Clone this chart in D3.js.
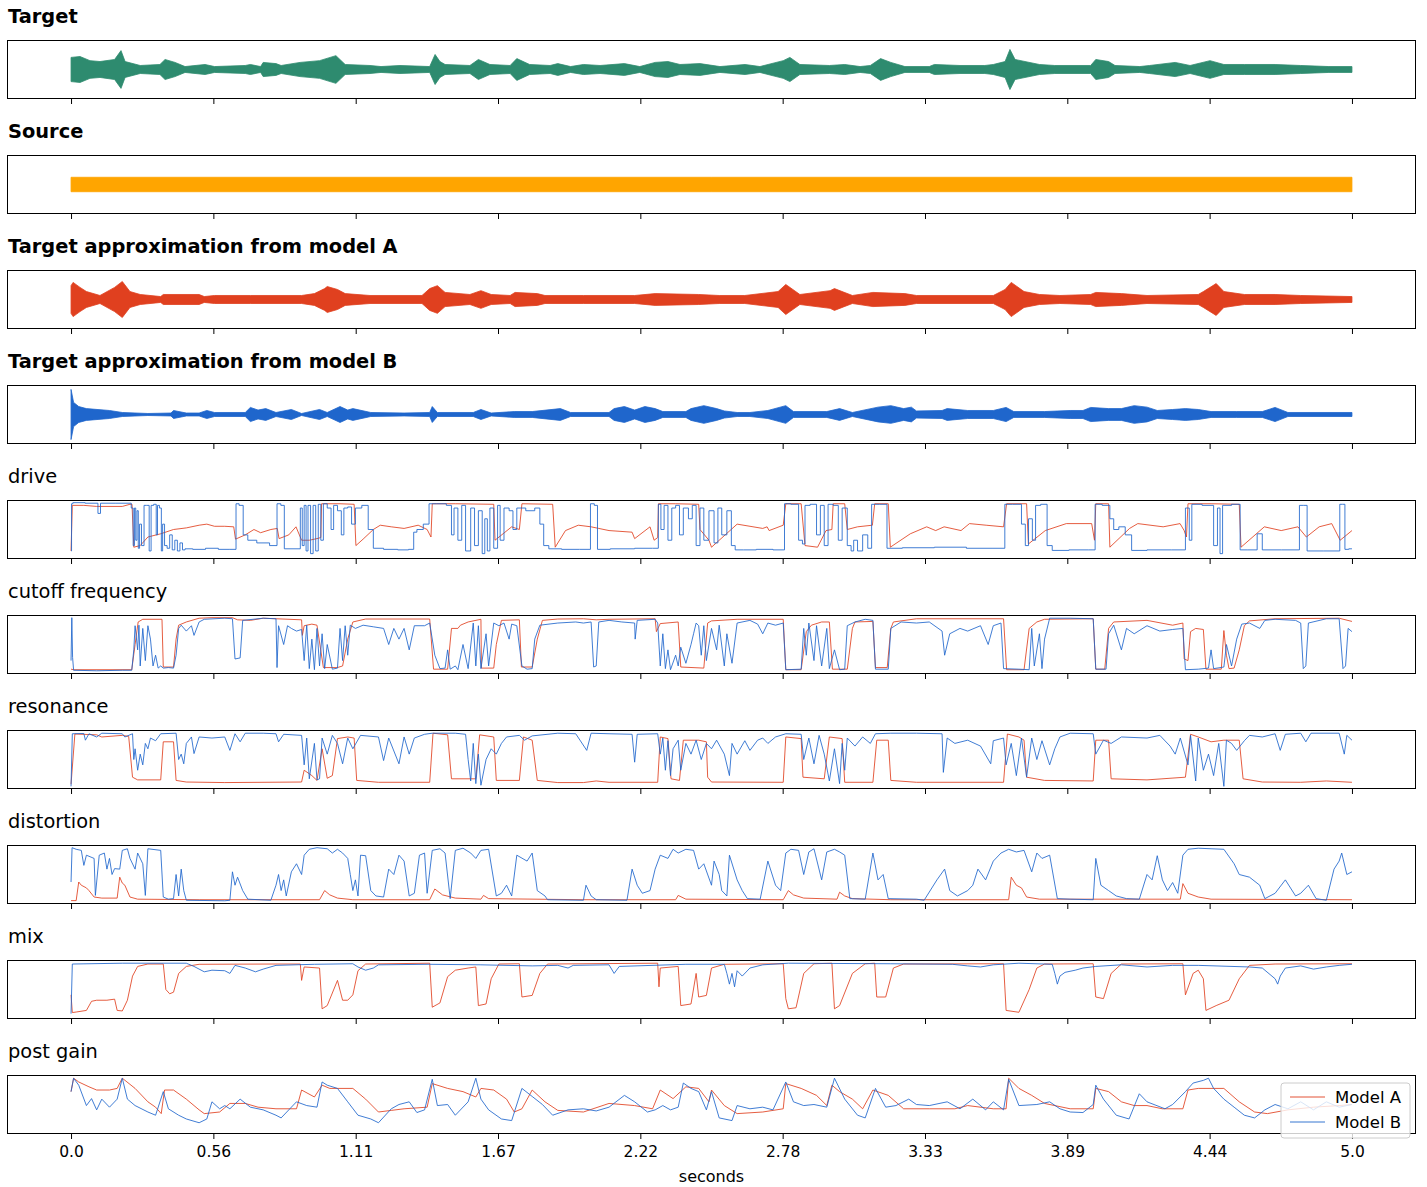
<!DOCTYPE html>
<html>
<head>
<meta charset="utf-8">
<script src="https://cdn.jsdelivr.net/npm/d3@7"></script>
<style>
  body { margin: 0; background: #fff; }
  svg { display: block; font-family: "DejaVu Sans", sans-serif; }
</style>
</head>
<body>
<svg id="chart" width="1427" height="1187"></svg>
<script>
// ---- axis ticks ----
const TICK_VALUES = [0, 5/9, 10/9, 15/9, 20/9, 25/9, 30/9, 35/9, 40/9, 5];
const TICK_LABELS = ["0.0", "0.56", "1.11", "1.67", "2.22", "2.78", "3.33", "3.89", "4.44", "5.0"];

// ---- audio envelopes: [seconds, peak amplitude] ----
const TARGET_ENV = [[0,.41],[.035,.44],[.074,.3],[.113,.27],[.17,.34],[.195,.64],[.211,.27],[.27,.136],[.347,.17],[.367,.34],[.406,.24],[.445,.1],[.523,.17],[.56,.1],[.68,.136],[.7,.17],[.74,.1],[.75,.24],[.8,.2],[.82,.136],[.894,.24],[.97,.3],[1.034,.47],[1.07,.17],[1.167,.136],[1.21,.1],[1.284,.136],[1.4,.1],[1.421,.51],[1.44,.27],[1.46,.17],[1.557,.136],[1.59,.34],[1.635,.17],[1.714,.136],[1.74,.37],[1.79,.17],[1.87,.136],[1.9,.2],[1.95,.1],[2.0,.17],[2.065,.136],[2.16,.2],[2.22,.1],[2.28,.24],[2.33,.27],[2.377,.17],[2.455,.2],[2.533,.1],[2.631,.17],[2.689,.1],[2.78,.3],[2.806,.41],[2.845,.17],[2.96,.136],[3.02,.17],[3.08,.1],[3.12,.136],[3.16,.37],[3.2,.24],[3.255,.1],[3.35,.1],[3.37,.17],[3.47,.136],[3.567,.136],[3.6,.17],[3.646,.27],[3.665,.68],[3.685,.34],[3.78,.17],[3.84,.136],[3.98,.136],[4.0,.34],[4.05,.27],[4.075,.136],[4.172,.1],[4.21,.136],[4.31,.24],[4.368,.136],[4.446,.3],[4.5,.17],[4.58,.17],[4.7,.17],[4.8,.136],[4.91,.1],[5.0,.1]];
const SOURCE_ENV = [[0,.245],[2.5,.245],[5,.245]];
const MODEL_A_ENV = [[0,.47],[.008,.58],[.035,.41],[.06,.27],[.113,.136],[.17,.41],[.2,.61],[.23,.27],[.27,.17],[.35,.1],[.36,.17],[.5,.17],[.52,.1],[.56,.136],[.7,.136],[.9,.136],[.95,.2],[.99,.37],[1.0,.44],[1.04,.34],[1.07,.2],[1.167,.136],[1.37,.136],[1.4,.37],[1.43,.47],[1.46,.24],[1.557,.17],[1.6,.3],[1.64,.17],[1.714,.136],[1.733,.24],[1.82,.2],[1.85,.136],[2.0,.136],[2.2,.136],[2.28,.2],[2.45,.17],[2.53,.136],[2.63,.136],[2.76,.27],[2.79,.51],[2.845,.17],[2.963,.3],[2.98,.37],[3.05,.136],[3.13,.24],[3.255,.2],[3.3,.136],[3.6,.136],[3.646,.34],[3.67,.58],[3.72,.27],[3.78,.17],[3.86,.136],[3.98,.17],[4.0,.24],[4.1,.2],[4.2,.136],[4.4,.17],[4.42,.27],[4.47,.54],[4.5,.27],[4.58,.17],[4.7,.17],[4.8,.136],[5.0,.1]];
const MODEL_B_ENV = [[0,.85],[.01,.41],[.03,.27],[.06,.2],[.15,.136],[.2,.068],[.3,.034],[.39,.05],[.4,.136],[.45,.05],[.5,.05],[.53,.136],[.56,.068],[.68,.068],[.7,.24],[.73,.15],[.76,.2],[.8,.068],[.86,.17],[.9,.034],[.97,.17],[1.0,.068],[1.05,.27],[1.08,.15],[1.1,.2],[1.17,.068],[1.3,.05],[1.4,.068],[1.41,.27],[1.43,.068],[1.57,.068],[1.6,.17],[1.64,.05],[1.73,.1],[1.8,.1],[1.91,.2],[1.95,.068],[2.1,.068],[2.12,.2],[2.16,.27],[2.2,.15],[2.24,.27],[2.28,.2],[2.31,.1],[2.4,.1],[2.42,.2],[2.47,.3],[2.52,.2],[2.55,.12],[2.6,.068],[2.65,.068],[2.72,.136],[2.79,.3],[2.82,.1],[2.95,.1],[3.0,.2],[3.05,.068],[3.15,.25],[3.2,.3],[3.25,.2],[3.28,.25],[3.3,.12],[3.4,.136],[3.42,.2],[3.5,.136],[3.6,.136],[3.65,.24],[3.68,.1],[3.8,.1],[3.9,.136],[3.95,.136],[3.98,.24],[4.05,.2],[4.1,.2],[4.15,.3],[4.2,.25],[4.24,.136],[4.3,.17],[4.35,.2],[4.4,.17],[4.45,.1],[4.55,.1],[4.65,.1],[4.7,.24],[4.75,.068],[5.0,.068]];

// ---- synth parameters: [seconds, normalised value] ----
const DRIVE_A = [[0,0.1],[0.005,0.95],[0.05,0.95],[0.1,0.93],[0.2,0.93],[0.23,0.97],[0.238,0.97],[0.245,0.17],[0.27,0.2],[0.3,0.36],[0.35,0.42],[0.4,0.5],[0.45,0.53],[0.5,0.58],[0.53,0.6],[0.56,0.56],[0.6,0.56],[0.635,0.55],[0.642,0.32],[0.68,0.4],[0.714,0.5],[0.74,0.44],[0.78,0.5],[0.805,0.52],[0.812,0.33],[0.85,0.4],[0.878,0.55],[0.9,0.3],[0.93,0.3],[0.96,0.33],[0.975,0.35],[0.978,0.98],[1.05,0.98],[1.105,0.97],[1.112,0.2],[1.14,0.32],[1.18,0.5],[1.207,0.58],[1.25,0.55],[1.3,0.52],[1.355,0.58],[1.39,0.5],[1.405,0.36],[1.41,0.98],[1.5,0.98],[1.65,0.97],[1.655,0.3],[1.72,0.55],[1.75,0.5],[1.76,0.98],[1.88,0.97],[1.89,0.17],[1.93,0.48],[1.98,0.58],[2.03,0.55],[2.06,0.52],[2.1,0.48],[2.19,0.45],[2.2,0.33],[2.26,0.55],[2.276,0.3],[2.29,0.35],[2.293,0.98],[2.36,0.98],[2.45,0.97],[2.455,0.5],[2.49,0.3],[2.5,0.17],[2.6,0.6],[2.7,0.52],[2.717,0.55],[2.725,0.48],[2.78,0.58],[2.79,0.98],[2.85,0.98],[2.865,0.2],[2.914,0.17],[2.947,0.48],[2.97,0.5],[2.975,0.98],[3.02,0.98],[3.03,0.5],[3.07,0.55],[3.128,0.58],[3.137,0.98],[3.19,0.98],[3.198,0.17],[3.276,0.42],[3.34,0.55],[3.375,0.48],[3.408,0.55],[3.474,0.48],[3.507,0.61],[3.572,0.58],[3.64,0.55],[3.652,0.98],[3.73,0.98],[3.737,0.23],[3.803,0.48],[3.885,0.61],[3.984,0.61],[3.995,0.3],[4.0,0.98],[4.05,0.98],[4.055,0.17],[4.132,0.52],[4.164,0.61],[4.263,0.55],[4.329,0.61],[4.345,0.48],[4.354,0.36],[4.36,0.98],[4.45,0.98],[4.56,0.97],[4.567,0.17],[4.658,0.55],[4.724,0.48],[4.789,0.55],[4.822,0.36],[4.872,0.55],[4.921,0.61],[4.954,0.3],[5.0,0.48]];
const DRIVE_B = [[0,0.1],[0.004,0.98],[0.01,1.0],[0.1,0.99],[0.11,0.8],[0.12,0.99],[0.23,0.99],[0.24,0.9],[0.245,0.2],[0.25,0.9],[0.255,0.3],[0.26,0.85],[0.265,0.15],[0.27,0.6],[0.28,0.2],[0.29,0.95],[0.3,0.95],[0.31,0.1],[0.315,0.95],[0.33,0.97],[0.335,0.4],[0.34,0.95],[0.35,0.9],[0.355,0.1],[0.36,0.6],[0.37,0.2],[0.38,0.15],[0.39,0.4],[0.4,0.12],[0.41,0.3],[0.42,0.1],[0.43,0.25],[0.44,0.12],[0.45,0.14],[0.5,0.13],[0.55,0.15],[0.6,0.13],[0.64,0.13],[0.648,0.98],[0.664,0.95],[0.68,0.4],[0.7,0.3],[0.75,0.25],[0.8,0.2],[0.808,0.98],[0.83,0.95],[0.835,0.14],[0.89,0.14],[0.9,0.9],[0.905,0.2],[0.915,0.95],[0.92,0.1],[0.93,0.95],[0.94,0.05],[0.95,0.95],[0.96,0.1],[0.97,0.97],[0.98,0.3],[0.99,0.98],[1.01,0.9],[1.02,0.5],[1.03,0.95],[1.05,0.85],[1.06,0.4],[1.07,0.9],[1.09,0.92],[1.1,0.6],[1.12,0.9],[1.15,0.95],[1.17,0.5],[1.19,0.15],[1.25,0.13],[1.3,0.12],[1.335,0.13],[1.34,0.45],[1.36,0.5],[1.39,0.6],[1.405,0.98],[1.45,0.98],[1.48,0.95],[1.49,0.4],[1.5,0.9],[1.52,0.3],[1.53,0.95],[1.55,0.1],[1.57,0.9],[1.58,0.2],[1.6,0.85],[1.61,0.05],[1.62,0.7],[1.63,0.1],[1.64,0.9],[1.66,0.15],[1.67,0.95],[1.68,0.3],[1.7,0.9],[1.72,0.85],[1.73,0.5],[1.75,0.9],[1.8,0.85],[1.82,0.9],[1.84,0.6],[1.85,0.2],[1.88,0.14],[1.95,0.13],[2.02,0.13],[2.035,0.98],[2.05,0.95],[2.06,0.13],[2.15,0.14],[2.25,0.15],[2.29,0.15],[2.295,0.97],[2.31,0.5],[2.32,0.95],[2.34,0.3],[2.35,0.9],[2.37,0.95],[2.38,0.4],[2.4,0.9],[2.42,0.7],[2.43,0.95],[2.45,0.2],[2.46,0.9],[2.48,0.3],[2.5,0.85],[2.52,0.25],[2.53,0.9],[2.55,0.4],[2.57,0.85],[2.585,0.2],[2.6,0.12],[2.65,0.12],[2.7,0.13],[2.78,0.12],[2.79,0.98],[2.83,0.97],[2.85,0.3],[2.86,0.23],[2.87,0.95],[2.9,0.97],[2.92,0.4],[2.93,0.95],[2.95,0.2],[2.96,0.97],[2.99,0.95],[3.0,0.3],[3.02,0.9],[3.04,0.2],[3.05,0.1],[3.06,0.3],[3.08,0.1],[3.1,0.4],[3.12,0.15],[3.13,0.97],[3.18,0.97],[3.19,0.15],[3.3,0.16],[3.44,0.17],[3.55,0.15],[3.64,0.15],[3.65,0.97],[3.7,0.97],[3.72,0.6],[3.73,0.2],[3.745,0.7],[3.76,0.3],[3.77,0.95],[3.8,0.97],[3.82,0.2],[3.84,0.11],[3.95,0.12],[3.995,0.12],[4.0,0.97],[4.05,0.95],[4.06,0.7],[4.08,0.5],[4.1,0.55],[4.13,0.4],[4.15,0.11],[4.25,0.12],[4.34,0.12],[4.36,0.9],[4.37,0.3],[4.38,0.97],[4.45,0.95],[4.47,0.2],[4.48,0.9],[4.49,0.05],[4.5,0.95],[4.56,0.97],[4.567,0.12],[4.62,0.12],[4.64,0.42],[4.66,0.12],[4.79,0.12],[4.8,0.95],[4.82,0.95],[4.83,0.1],[4.95,0.1],[4.955,0.97],[4.97,0.97],[4.975,0.13],[5.0,0.14]];
const CUTOFF_A = [[0,0.04],[0.01,0.03],[0.237,0.03],[0.25,0.5],[0.262,0.92],[0.28,0.97],[0.355,0.97],[0.36,0.08],[0.4,0.08],[0.41,0.6],[0.42,0.86],[0.45,0.92],[0.5,0.99],[0.55,1.0],[0.63,1.0],[0.65,0.96],[0.7,0.95],[0.75,0.99],[0.9,0.96],[0.903,0.67],[0.91,0.85],[0.94,0.88],[0.96,0.86],[0.985,0.07],[1.04,0.07],[1.06,0.1],[1.08,0.6],[1.1,0.92],[1.15,0.975],[1.4,0.975],[1.415,0.04],[1.47,0.04],[1.485,0.8],[1.51,0.8],[1.52,0.86],[1.55,0.92],[1.6,0.97],[1.602,0.06],[1.65,0.06],[1.66,0.5],[1.68,0.95],[1.75,0.96],[1.758,0.08],[1.8,0.08],[1.82,0.6],[1.84,0.95],[1.9,0.975],[2.0,0.98],[2.05,0.96],[2.1,0.97],[2.28,0.98],[2.285,0.74],[2.3,0.89],[2.37,0.92],[2.38,0.08],[2.47,0.06],[2.485,0.9],[2.5,0.94],[2.6,0.97],[2.78,0.97],[2.79,0.03],[2.85,0.03],[2.87,0.74],[2.89,0.86],[2.93,0.92],[2.96,0.92],[2.972,0.04],[3.03,0.04],[3.05,0.8],[3.06,0.92],[3.13,0.93],[3.14,0.07],[3.186,0.07],[3.2,0.8],[3.21,0.92],[3.3,0.98],[3.64,0.98],[3.652,0.03],[3.72,0.03],[3.74,0.8],[3.77,0.92],[3.8,0.97],[3.99,0.98],[4.0,0.04],[4.035,0.04],[4.05,0.8],[4.07,0.92],[4.2,0.95],[4.3,0.86],[4.34,0.9],[4.345,0.23],[4.36,0.2],[4.37,0.74],[4.39,0.8],[4.42,0.78],[4.43,0.04],[4.49,0.04],[4.5,0.76],[4.51,0.3],[4.52,0.05],[4.54,0.06],[4.56,0.4],[4.58,0.85],[4.6,0.94],[4.7,0.98],[4.95,0.99],[5.0,0.93]];
const CUTOFF_B = [[0,0.2],[0.003,1.0],[0.006,0.26],[0.01,0.02],[0.1,0.01],[0.2,0.02],[0.237,0.02],[0.245,0.4],[0.25,0.85],[0.26,0.4],[0.265,0.86],[0.27,0.1],[0.28,0.8],[0.29,0.2],[0.3,0.85],[0.31,0.6],[0.32,0.1],[0.33,0.3],[0.34,0.06],[0.35,0.1],[0.36,0.06],[0.38,0.07],[0.4,0.06],[0.41,0.3],[0.42,0.8],[0.43,0.86],[0.45,0.75],[0.47,0.85],[0.48,0.67],[0.5,0.92],[0.52,0.97],[0.6,0.99],[0.63,0.98],[0.64,0.23],[0.66,0.25],[0.67,0.95],[0.75,0.99],[0.8,0.98],[0.804,0.07],[0.81,0.85],[0.83,0.5],[0.845,0.85],[0.86,0.8],[0.88,0.75],[0.9,0.78],[0.91,0.2],[0.92,0.86],[0.93,0.05],[0.94,0.6],[0.95,0.03],[0.96,0.8],[0.97,0.1],[0.98,0.7],[0.99,0.05],[1.0,0.5],[1.02,0.04],[1.04,0.06],[1.05,0.8],[1.06,0.2],[1.07,0.85],[1.08,0.3],[1.09,0.86],[1.11,0.8],[1.14,0.86],[1.18,0.83],[1.22,0.8],[1.24,0.5],[1.26,0.8],[1.28,0.6],[1.3,0.8],[1.32,0.4],[1.34,0.85],[1.38,0.85],[1.4,0.9],[1.42,0.3],[1.44,0.05],[1.46,0.06],[1.47,0.4],[1.48,0.04],[1.5,0.1],[1.51,0.03],[1.53,0.5],[1.55,0.05],[1.57,0.9],[1.58,0.1],[1.59,0.85],[1.6,0.05],[1.62,0.7],[1.63,0.1],[1.65,0.9],[1.67,0.85],[1.69,0.9],[1.71,0.6],[1.72,0.88],[1.74,0.85],[1.76,0.1],[1.78,0.04],[1.8,0.05],[1.81,0.6],[1.83,0.86],[1.9,0.9],[1.97,0.92],[2.0,0.9],[2.03,0.92],[2.04,0.08],[2.05,0.1],[2.06,0.92],[2.1,0.95],[2.15,0.92],[2.2,0.9],[2.202,0.6],[2.21,0.95],[2.28,0.97],[2.29,0.9],[2.3,0.1],[2.31,0.7],[2.32,0.05],[2.33,0.4],[2.34,0.03],[2.36,0.3],[2.37,0.1],[2.38,0.45],[2.4,0.15],[2.42,0.5],[2.43,0.7],[2.44,0.9],[2.45,0.85],[2.46,0.3],[2.47,0.85],[2.48,0.2],[2.5,0.8],[2.52,0.4],[2.53,0.86],[2.55,0.1],[2.56,0.7],[2.58,0.15],[2.6,0.9],[2.65,0.95],[2.68,0.88],[2.7,0.7],[2.72,0.9],[2.75,0.86],[2.78,0.9],[2.79,0.03],[2.85,0.04],[2.86,0.8],[2.87,0.3],[2.88,0.9],[2.9,0.2],[2.91,0.85],[2.93,0.1],[2.95,0.8],[2.96,0.05],[2.98,0.4],[3.0,0.03],[3.02,0.04],[3.03,0.85],[3.06,0.92],[3.1,0.97],[3.13,0.95],[3.14,0.04],[3.19,0.04],[3.2,0.8],[3.24,0.92],[3.3,0.9],[3.35,0.92],[3.4,0.75],[3.41,0.3],[3.43,0.7],[3.47,0.8],[3.5,0.75],[3.55,0.85],[3.58,0.5],[3.6,0.85],[3.63,0.9],[3.64,0.05],[3.7,0.04],[3.74,0.03],[3.75,0.8],[3.76,0.1],[3.78,0.7],[3.79,0.05],[3.8,0.6],[3.82,0.99],[3.9,0.99],[3.99,0.98],[4.0,0.04],[4.04,0.04],[4.05,0.7],[4.07,0.86],[4.1,0.4],[4.12,0.8],[4.15,0.7],[4.2,0.85],[4.25,0.75],[4.3,0.78],[4.34,0.8],[4.35,0.03],[4.4,0.04],[4.44,0.06],[4.45,0.4],[4.46,0.05],[4.5,0.08],[4.51,0.5],[4.53,0.1],[4.55,0.6],[4.57,0.88],[4.6,0.9],[4.64,0.8],[4.66,0.95],[4.7,0.97],[4.78,0.95],[4.8,0.9],[4.81,0.05],[4.82,0.1],[4.83,0.9],[4.9,0.98],[4.95,0.98],[4.965,0.05],[4.975,0.1],[4.985,0.8],[5.0,0.74]];
const RESONANCE_A = [[0,0.04],[0.015,0.975],[0.1,0.96],[0.12,0.92],[0.2,0.95],[0.225,0.93],[0.24,0.17],[0.26,0.12],[0.35,0.12],[0.36,0.83],[0.4,0.83],[0.41,0.11],[0.45,0.08],[0.6,0.07],[0.9,0.08],[0.91,0.3],[0.94,0.2],[0.96,0.11],[0.98,0.7],[1.0,0.15],[1.02,0.2],[1.04,0.89],[1.08,0.92],[1.105,0.9],[1.115,0.11],[1.2,0.075],[1.4,0.075],[1.413,0.99],[1.47,0.96],[1.485,0.14],[1.58,0.14],[1.595,0.96],[1.65,0.92],[1.66,0.11],[1.75,0.11],[1.766,0.92],[1.8,0.86],[1.82,0.11],[1.9,0.07],[2.0,0.07],[2.05,0.1],[2.1,0.075],[2.29,0.075],[2.3,0.92],[2.33,0.89],[2.342,0.14],[2.375,0.11],[2.39,0.86],[2.45,0.86],[2.48,0.83],[2.485,0.17],[2.5,0.08],[2.78,0.075],[2.79,0.92],[2.85,0.89],[2.857,0.17],[2.94,0.14],[2.96,0.92],[3.01,0.89],[3.02,0.075],[3.13,0.075],[3.145,0.86],[3.19,0.86],[3.2,0.11],[3.3,0.075],[3.64,0.075],[3.655,0.975],[3.7,0.92],[3.72,0.86],[3.73,0.17],[3.8,0.11],[3.99,0.1],[4.0,0.86],[4.05,0.86],[4.06,0.14],[4.2,0.12],[4.35,0.17],[4.37,0.97],[4.4,0.92],[4.45,0.83],[4.5,0.86],[4.56,0.86],[4.575,0.14],[4.65,0.08],[4.8,0.075],[4.9,0.1],[5.0,0.075]];
const RESONANCE_B = [[0,0.0],[0.005,0.98],[0.05,0.985],[0.056,0.86],[0.07,0.98],[0.1,0.92],[0.12,0.99],[0.2,0.98],[0.21,0.92],[0.24,0.98],[0.245,0.5],[0.25,0.7],[0.26,0.3],[0.27,0.6],[0.28,0.4],[0.29,0.8],[0.3,0.7],[0.31,0.9],[0.33,0.85],[0.35,0.98],[0.41,0.99],[0.42,0.5],[0.43,0.6],[0.44,0.42],[0.45,0.8],[0.47,0.92],[0.48,0.61],[0.5,0.92],[0.55,0.9],[0.6,0.92],[0.62,0.67],[0.64,0.98],[0.66,0.83],[0.68,0.99],[0.75,0.99],[0.8,0.98],[0.81,0.83],[0.83,0.97],[0.9,0.95],[0.91,0.4],[0.92,0.9],[0.93,0.14],[0.95,0.8],[0.96,0.12],[0.97,0.14],[0.98,0.9],[1.0,0.6],[1.02,0.95],[1.04,0.8],[1.06,0.42],[1.08,0.9],[1.1,0.7],[1.13,0.95],[1.2,0.92],[1.22,0.48],[1.24,0.9],[1.28,0.42],[1.3,0.92],[1.32,0.6],[1.34,0.9],[1.38,0.97],[1.41,0.99],[1.5,0.99],[1.54,0.97],[1.55,0.5],[1.56,0.1],[1.57,0.8],[1.58,0.05],[1.59,0.6],[1.6,0.02],[1.62,0.5],[1.64,0.7],[1.66,0.6],[1.68,0.8],[1.7,0.92],[1.75,0.95],[1.77,0.86],[1.8,0.94],[1.9,0.99],[1.97,0.98],[2.013,0.67],[2.03,0.99],[2.1,0.98],[2.19,0.97],[2.2,0.45],[2.21,0.97],[2.29,0.98],[2.3,0.6],[2.31,0.9],[2.32,0.3],[2.33,0.85],[2.34,0.2],[2.35,0.7],[2.37,0.86],[2.38,0.3],[2.4,0.8],[2.42,0.6],[2.44,0.86],[2.46,0.5],[2.48,0.8],[2.5,0.7],[2.52,0.86],[2.55,0.6],[2.57,0.2],[2.58,0.8],[2.6,0.6],[2.63,0.85],[2.65,0.67],[2.68,0.86],[2.7,0.9],[2.72,0.8],[2.75,0.92],[2.79,0.98],[2.85,0.97],[2.86,0.5],[2.88,0.9],[2.9,0.42],[2.92,0.95],[2.94,0.6],[2.96,0.1],[2.98,0.7],[3.0,0.05],[3.01,0.8],[3.02,0.3],[3.03,0.9],[3.06,0.75],[3.09,0.92],[3.12,0.8],[3.14,0.98],[3.2,0.99],[3.3,0.99],[3.4,0.98],[3.405,0.26],[3.42,0.9],[3.45,0.8],[3.5,0.86],[3.55,0.75],[3.59,0.42],[3.6,0.85],[3.64,0.9],[3.65,0.4],[3.67,0.8],[3.69,0.2],[3.71,0.9],[3.73,0.17],[3.75,0.9],[3.77,0.5],[3.79,0.85],[3.82,0.4],[3.84,0.7],[3.86,0.92],[3.9,0.99],[3.99,0.98],[4.0,0.6],[4.03,0.86],[4.06,0.8],[4.1,0.92],[4.2,0.9],[4.25,0.95],[4.29,0.75],[4.31,0.6],[4.33,0.9],[4.36,0.4],[4.37,0.95],[4.39,0.1],[4.4,0.9],[4.42,0.3],[4.44,0.6],[4.46,0.2],[4.48,0.8],[4.5,0.0],[4.51,0.86],[4.53,0.8],[4.55,0.67],[4.58,0.85],[4.6,0.95],[4.65,0.92],[4.7,0.98],[4.72,0.67],[4.74,0.97],[4.8,0.99],[4.82,0.83],[4.84,0.99],[4.95,0.99],[4.97,0.6],[4.98,0.95],[5.0,0.86]];
const DISTORTION_A = [[0,0.013],[0.02,0.013],[0.03,0.36],[0.04,0.3],[0.06,0.25],[0.07,0.2],[0.09,0.08],[0.12,0.06],[0.18,0.06],[0.19,0.45],[0.2,0.34],[0.21,0.3],[0.23,0.08],[0.26,0.04],[0.5,0.03],[0.97,0.03],[0.99,0.2],[1.01,0.12],[1.04,0.06],[1.1,0.03],[1.4,0.03],[1.42,0.23],[1.45,0.12],[1.5,0.06],[1.6,0.04],[1.61,0.11],[1.63,0.05],[2.0,0.03],[2.36,0.03],[2.37,0.11],[2.4,0.04],[2.78,0.03],[2.8,0.2],[2.82,0.12],[2.86,0.06],[2.99,0.04],[3.0,0.17],[3.02,0.1],[3.05,0.05],[3.2,0.03],[3.66,0.03],[3.67,0.45],[3.69,0.3],[3.71,0.25],[3.73,0.08],[3.78,0.04],[4.33,0.04],[4.34,0.33],[4.36,0.15],[4.4,0.08],[4.45,0.04],[5.0,0.03]];
const DISTORTION_B = [[0,0.36],[0.004,1.0],[0.02,0.97],[0.04,0.95],[0.05,0.67],[0.06,0.86],[0.09,0.8],[0.095,0.11],[0.11,0.86],[0.13,0.9],[0.14,0.6],[0.15,0.8],[0.16,0.5],[0.17,0.61],[0.19,0.6],[0.2,0.95],[0.22,0.98],[0.23,0.8],[0.25,0.6],[0.26,0.9],[0.28,0.7],[0.29,0.11],[0.3,0.98],[0.35,0.95],[0.36,0.08],[0.38,0.04],[0.4,0.05],[0.41,0.5],[0.42,0.1],[0.43,0.6],[0.44,0.2],[0.45,0.02],[0.6,0.01],[0.62,0.02],[0.63,0.55],[0.64,0.3],[0.65,0.45],[0.67,0.2],[0.69,0.04],[0.78,0.02],[0.8,0.3],[0.81,0.5],[0.82,0.2],[0.83,0.4],[0.84,0.1],[0.86,0.55],[0.88,0.7],[0.9,0.5],[0.91,0.86],[0.93,0.97],[0.96,1.0],[1.0,0.98],[1.02,0.9],[1.04,0.97],[1.06,0.9],[1.08,0.8],[1.09,0.5],[1.1,0.2],[1.11,0.4],[1.12,0.1],[1.13,0.86],[1.15,0.85],[1.17,0.2],[1.19,0.1],[1.22,0.08],[1.24,0.6],[1.26,0.5],[1.28,0.86],[1.3,0.75],[1.32,0.1],[1.34,0.15],[1.36,0.86],[1.38,0.9],[1.39,0.15],[1.41,0.95],[1.44,0.98],[1.46,0.9],[1.48,0.05],[1.5,0.95],[1.53,0.99],[1.56,0.9],[1.58,0.8],[1.6,0.95],[1.63,0.97],[1.66,0.1],[1.68,0.15],[1.7,0.3],[1.72,0.1],[1.74,0.86],[1.78,0.75],[1.8,0.9],[1.82,0.2],[1.85,0.1],[1.86,0.03],[2.0,0.02],[2.01,0.3],[2.03,0.1],[2.05,0.03],[2.17,0.02],[2.19,0.6],[2.21,0.3],[2.23,0.15],[2.26,0.2],[2.28,0.6],[2.3,0.86],[2.33,0.8],[2.35,0.97],[2.37,0.9],[2.4,0.97],[2.43,0.95],[2.45,0.6],[2.47,0.7],[2.5,0.3],[2.51,0.75],[2.53,0.5],[2.54,0.2],[2.56,0.1],[2.57,0.86],[2.6,0.4],[2.62,0.2],[2.64,0.05],[2.69,0.04],[2.72,0.75],[2.75,0.3],[2.77,0.2],[2.79,0.9],[2.81,0.97],[2.84,0.95],[2.86,0.5],[2.88,0.92],[2.9,0.98],[2.93,0.4],[2.95,0.92],[2.98,0.97],[3.0,0.92],[3.02,0.86],[3.04,0.05],[3.1,0.04],[3.13,0.9],[3.15,0.4],[3.17,0.5],[3.19,0.05],[3.3,0.04],[3.33,0.02],[3.38,0.4],[3.41,0.6],[3.43,0.2],[3.46,0.1],[3.5,0.2],[3.52,0.3],[3.54,0.6],[3.57,0.4],[3.6,0.75],[3.63,0.9],[3.66,0.97],[3.69,0.92],[3.72,0.95],[3.75,0.55],[3.77,0.9],[3.79,0.8],[3.82,0.86],[3.85,0.05],[3.9,0.04],[3.99,0.03],[4.0,0.8],[4.02,0.3],[4.05,0.2],[4.08,0.1],[4.12,0.05],[4.17,0.04],[4.2,0.5],[4.22,0.4],[4.24,0.85],[4.26,0.4],[4.28,0.2],[4.3,0.35],[4.32,0.15],[4.34,0.86],[4.36,0.97],[4.4,0.99],[4.45,0.98],[4.5,0.97],[4.54,0.7],[4.56,0.5],[4.6,0.45],[4.64,0.3],[4.66,0.05],[4.7,0.15],[4.74,0.4],[4.78,0.1],[4.8,0.15],[4.83,0.3],[4.86,0.05],[4.9,0.02],[4.93,0.6],[4.95,0.75],[4.96,0.9],[4.98,0.5],[5.0,0.55]];
const MIX_A = [[0,0.4],[0.005,0.07],[0.02,0.08],[0.06,0.11],[0.08,0.28],[0.1,0.3],[0.14,0.3],[0.17,0.32],[0.18,0.11],[0.2,0.1],[0.22,0.3],[0.24,0.75],[0.26,0.93],[0.3,0.975],[0.36,0.975],[0.37,0.5],[0.385,0.42],[0.4,0.45],[0.42,0.8],[0.45,0.93],[0.5,0.97],[0.8,0.975],[0.895,0.975],[0.9,0.67],[0.91,0.92],[0.97,0.9],[0.98,0.14],[1.0,0.2],[1.04,0.67],[1.06,0.3],[1.08,0.3],[1.1,0.4],[1.12,0.85],[1.15,0.975],[1.4,0.99],[1.41,0.17],[1.44,0.25],[1.47,0.74],[1.5,0.86],[1.55,0.9],[1.58,0.92],[1.59,0.2],[1.62,0.23],[1.64,0.7],[1.67,0.975],[1.75,0.98],[1.76,0.36],[1.8,0.39],[1.83,0.8],[1.86,0.975],[2.29,0.99],[2.295,0.55],[2.3,0.9],[2.37,0.93],[2.38,0.2],[2.42,0.23],[2.44,0.8],[2.45,0.36],[2.48,0.39],[2.5,0.9],[2.55,0.97],[2.78,0.98],[2.79,0.33],[2.8,0.14],[2.83,0.16],[2.86,0.8],[2.9,0.98],[2.97,0.99],[2.98,0.14],[3.0,0.2],[3.05,0.8],[3.1,0.98],[3.137,0.99],[3.145,0.36],[3.18,0.36],[3.21,0.9],[3.25,0.975],[3.64,0.98],[3.65,0.11],[3.7,0.075],[3.74,0.5],[3.77,0.9],[3.8,0.975],[3.99,0.98],[4.0,0.36],[4.03,0.33],[4.06,0.8],[4.1,0.975],[4.34,0.98],[4.35,0.4],[4.38,0.8],[4.4,0.86],[4.42,0.7],[4.43,0.11],[4.47,0.2],[4.52,0.3],[4.56,0.7],[4.6,0.95],[4.7,0.975],[5.0,0.98]];
const MIX_B = [[0,0.05],[0.005,0.975],[0.2,0.99],[0.45,0.99],[0.48,0.93],[0.52,0.83],[0.55,0.86],[0.6,0.85],[0.62,0.8],[0.64,0.95],[0.68,0.9],[0.72,0.83],[0.75,0.88],[0.8,0.95],[0.95,0.97],[1.1,0.98],[1.12,0.92],[1.15,0.86],[1.18,0.9],[1.2,0.96],[1.4,0.97],[1.6,0.96],[1.8,0.94],[1.9,0.95],[1.94,0.9],[1.96,0.95],[2.1,0.96],[2.12,0.8],[2.14,0.93],[2.4,0.97],[2.55,0.97],[2.56,0.8],[2.57,0.6],[2.58,0.8],[2.59,0.55],[2.6,0.85],[2.62,0.75],[2.65,0.9],[2.7,0.96],[2.8,0.99],[3.2,0.98],[3.44,0.97],[3.5,0.94],[3.55,0.92],[3.6,0.96],[3.7,0.99],[3.83,0.97],[3.84,0.8],[3.85,0.6],[3.86,0.75],[3.88,0.82],[3.92,0.86],[3.95,0.9],[4.0,0.93],[4.1,0.96],[4.2,0.92],[4.3,0.95],[4.4,0.95],[4.6,0.92],[4.65,0.9],[4.7,0.7],[4.71,0.6],[4.72,0.75],[4.74,0.9],[4.8,0.94],[4.85,0.88],[4.9,0.92],[4.95,0.95],[5.0,0.97]];
const POST_GAIN_A = [[0,0.74],[0.01,0.99],[0.03,0.92],[0.07,0.83],[0.1,0.77],[0.15,0.77],[0.18,0.8],[0.2,0.99],[0.25,0.8],[0.3,0.55],[0.33,0.45],[0.352,0.33],[0.365,0.77],[0.4,0.77],[0.45,0.6],[0.5,0.4],[0.52,0.33],[0.58,0.36],[0.62,0.52],[0.68,0.52],[0.73,0.45],[0.8,0.42],[0.88,0.42],[0.9,0.77],[0.95,0.64],[0.98,0.86],[1.01,0.8],[1.1,0.8],[1.15,0.6],[1.2,0.36],[1.25,0.39],[1.3,0.42],[1.39,0.45],[1.41,0.89],[1.47,0.8],[1.53,0.74],[1.58,0.64],[1.6,0.8],[1.65,0.77],[1.7,0.6],[1.73,0.36],[1.76,0.42],[1.8,0.77],[1.85,0.55],[1.9,0.39],[2.0,0.36],[2.1,0.52],[2.2,0.48],[2.27,0.42],[2.3,0.77],[2.35,0.61],[2.4,0.83],[2.45,0.8],[2.49,0.55],[2.5,0.77],[2.55,0.48],[2.6,0.33],[2.7,0.36],[2.78,0.42],[2.79,0.89],[2.85,0.8],[2.91,0.67],[2.95,0.48],[2.97,0.86],[3.0,0.74],[3.05,0.6],[3.09,0.42],[3.13,0.77],[3.19,0.67],[3.25,0.42],[3.35,0.42],[3.45,0.42],[3.5,0.48],[3.6,0.42],[3.65,0.42],[3.66,0.99],[3.7,0.8],[3.75,0.67],[3.8,0.52],[3.9,0.42],[3.99,0.42],[4.0,0.8],[4.05,0.74],[4.1,0.55],[4.15,0.48],[4.2,0.48],[4.26,0.42],[4.34,0.42],[4.36,0.77],[4.4,0.8],[4.5,0.8],[4.56,0.55],[4.62,0.36],[4.67,0.33],[4.75,0.4],[4.85,0.45],[4.95,0.48],[5.0,0.5]];
const POST_GAIN_B = [[0,0.74],[0.01,0.99],[0.03,0.86],[0.06,0.48],[0.08,0.61],[0.1,0.4],[0.12,0.6],[0.15,0.45],[0.18,0.6],[0.2,0.99],[0.22,0.6],[0.25,0.48],[0.3,0.36],[0.33,0.3],[0.36,0.74],[0.38,0.42],[0.42,0.3],[0.45,0.23],[0.5,0.16],[0.53,0.23],[0.55,0.55],[0.58,0.42],[0.6,0.48],[0.62,0.42],[0.66,0.6],[0.7,0.45],[0.75,0.4],[0.8,0.3],[0.82,0.25],[0.88,0.55],[0.92,0.48],[0.96,0.45],[0.98,0.92],[1.0,0.86],[1.04,0.8],[1.08,0.55],[1.12,0.3],[1.17,0.23],[1.2,0.16],[1.25,0.42],[1.28,0.5],[1.32,0.55],[1.35,0.35],[1.38,0.4],[1.41,0.97],[1.43,0.48],[1.47,0.5],[1.5,0.3],[1.55,0.55],[1.58,0.99],[1.6,0.6],[1.63,0.4],[1.68,0.23],[1.72,0.2],[1.76,0.8],[1.8,0.65],[1.84,0.5],[1.88,0.3],[1.94,0.4],[2.0,0.42],[2.05,0.38],[2.1,0.45],[2.16,0.67],[2.2,0.55],[2.25,0.36],[2.28,0.4],[2.31,0.48],[2.34,0.4],[2.37,0.45],[2.39,0.9],[2.42,0.8],[2.45,0.74],[2.48,0.4],[2.5,0.74],[2.53,0.25],[2.58,0.2],[2.6,0.48],[2.65,0.42],[2.7,0.45],[2.74,0.4],[2.79,0.92],[2.82,0.55],[2.86,0.48],[2.9,0.5],[2.95,0.45],[2.98,0.99],[3.02,0.6],[3.07,0.3],[3.1,0.25],[3.14,0.8],[3.18,0.45],[3.22,0.48],[3.27,0.6],[3.3,0.5],[3.35,0.48],[3.42,0.55],[3.47,0.42],[3.52,0.6],[3.57,0.4],[3.6,0.55],[3.64,0.4],[3.66,0.97],[3.7,0.48],[3.77,0.5],[3.82,0.55],[3.86,0.42],[3.9,0.36],[3.95,0.35],[3.99,0.5],[4.0,0.86],[4.03,0.6],[4.08,0.3],[4.13,0.23],[4.17,0.7],[4.2,0.55],[4.27,0.42],[4.3,0.5],[4.35,0.74],[4.38,0.9],[4.42,0.95],[4.44,0.99],[4.46,0.8],[4.5,0.6],[4.54,0.45],[4.58,0.3],[4.62,0.25],[4.66,0.4],[4.7,0.5],[4.75,0.42],[4.8,0.55],[4.85,0.4],[4.9,0.55],[4.95,0.45],[5.0,0.5]];

const COLORS = { target: "#2e8b6f", source: "#ffa500", a: "#e0401f", b: "#1f66cc" };

// "stepped": the drive control of model B jumps between levels
const panels = [
  { title: "Target", bold: true, env: TARGET_ENV, color: COLORS.target },
  { title: "Source", bold: true, env: SOURCE_ENV, color: COLORS.source },
  { title: "Target approximation from model A", bold: true, env: MODEL_A_ENV, color: COLORS.a },
  { title: "Target approximation from model B", bold: true, env: MODEL_B_ENV, color: COLORS.b },
  { title: "drive", a: DRIVE_A, b: DRIVE_B, stepped: true },
  { title: "cutoff frequency", a: CUTOFF_A, b: CUTOFF_B },
  { title: "resonance", a: RESONANCE_A, b: RESONANCE_B },
  { title: "distortion", a: DISTORTION_A, b: DISTORTION_B },
  { title: "mix", a: MIX_A, b: MIX_B },
  { title: "post gain", a: POST_GAIN_A, b: POST_GAIN_B }
];

// ---- layout ----
const W = 1427, H = 1187;
const LEFT = 7, RIGHT = 1416, TOP0 = 40, STEP = 115, PH = 59;

const svg = d3.select("#chart");
svg.append("rect").attr("width", W).attr("height", H).attr("fill", "#fff");

const x = d3.scaleLinear().domain([-0.25, 5.25]).range([LEFT, RIGHT]);

panels.forEach((p, i) => {
  const top = TOP0 + STEP * i;
  const g = svg.append("g");
  const clipId = "clip" + i;
  svg.append("clipPath").attr("id", clipId)
    .append("rect").attr("x", LEFT).attr("y", top).attr("width", RIGHT - LEFT).attr("height", PH);
  const plot = g.append("g").attr("clip-path", `url(#${clipId})`);

  if (p.env) {
    const y = d3.scaleLinear().domain([-1, 1]).range([top + PH, top]);
    const area = d3.area().x(d => x(d[0])).y0(d => y(-d[1])).y1(d => y(d[1]));
    plot.append("path").datum(p.env).attr("d", area)
      .attr("fill", p.color).attr("stroke", p.color).attr("stroke-width", 0.8);
  } else {
    const y = d3.scaleLinear().domain([-0.05, 1.05]).range([top + PH, top]);
    const lineA = d3.line().x(d => x(d[0])).y(d => y(d[1]));
    const lineB = d3.line().x(d => x(d[0])).y(d => y(d[1]))
      .curve(p.stepped ? d3.curveStep : d3.curveLinear);
    plot.append("path").datum(p.a).attr("d", lineA)
      .attr("fill", "none").attr("stroke", COLORS.a).attr("stroke-width", 0.85);
    plot.append("path").datum(p.b).attr("d", lineB)
      .attr("fill", "none").attr("stroke", COLORS.b).attr("stroke-width", 0.85);
  }

  // frame
  g.append("rect").attr("x", LEFT + 0.5).attr("y", top + 0.5)
    .attr("width", RIGHT - LEFT - 1).attr("height", PH - 1)
    .attr("fill", "none").attr("stroke", "#000").attr("stroke-width", 1);

  // x axis ticks (labels only on the last panel)
  const last = i === panels.length - 1;
  const axis = d3.axisBottom(x).tickValues(TICK_VALUES).tickSize(5).tickPadding(7)
    .tickFormat((d, k) => last ? TICK_LABELS[k] : "");
  const ax = g.append("g").attr("transform", `translate(0,${top + PH})`).call(axis);
  ax.select(".domain").remove();
  ax.selectAll("line").attr("stroke", "#000").attr("stroke-width", 1);
  ax.selectAll("text").attr("font-size", "15.5px").attr("fill", "#000")
    .attr("font-family", "DejaVu Sans, sans-serif");

  // title
  g.append("text").attr("x", LEFT + 1).attr("y", top - 17)
    .attr("font-size", "19.4px").attr("font-weight", p.bold ? "bold" : "normal")
    .attr("fill", "#000").text(p.title);
});

// x label
svg.append("text").attr("x", (LEFT + RIGHT) / 2).attr("y", 1182)
  .attr("text-anchor", "middle").attr("font-size", "16px").attr("fill", "#000").text("seconds");

// legend in the last panel
const legend = svg.append("g");
legend.append("rect").attr("x", 1281).attr("y", 1083).attr("width", 129).attr("height", 55)
  .attr("rx", 3).attr("fill", "#fff").attr("fill-opacity", 0.8)
  .attr("stroke", "#cccccc").attr("stroke-width", 1);
[["Model A", COLORS.a], ["Model B", COLORS.b]].forEach(([name, c], k) => {
  const yy = 1097 + k * 25;
  legend.append("line").attr("x1", 1290).attr("x2", 1325).attr("y1", yy).attr("y2", yy)
    .attr("stroke", c).attr("stroke-width", 0.9);
  legend.append("text").attr("x", 1335).attr("y", yy + 6)
    .attr("font-size", "16.5px").attr("fill", "#000").text(name);
});
</script>
</body>
</html>
